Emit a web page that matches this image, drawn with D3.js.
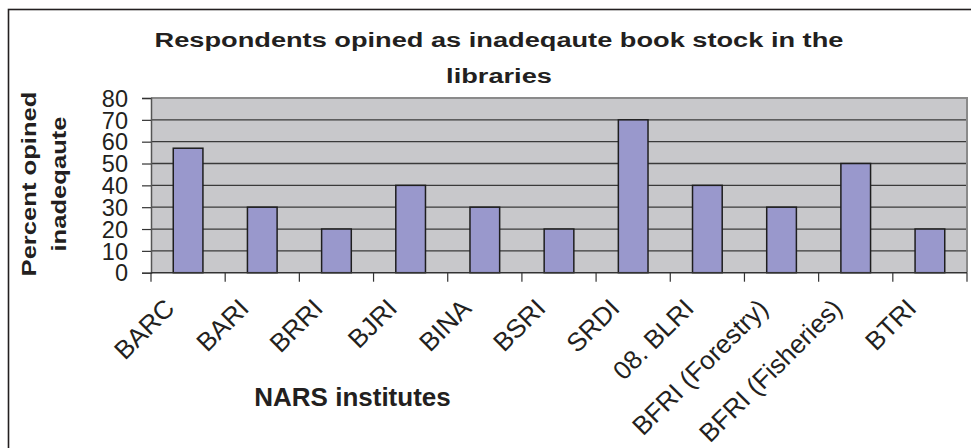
<!DOCTYPE html>
<html>
<head>
<meta charset="utf-8">
<script src="https://cdn.jsdelivr.net/npm/d3@7"></script>
<style>
  html, body { margin: 0; padding: 0; background: #fff; }
  svg { display: block; }
  text { font-family: "Liberation Sans", Arial, sans-serif; fill: #231f20; }
</style>
</head>
<body>
<svg id="chart" width="971" height="448"></svg>
<script>
const categories = ["BARC", "BARI", "BRRI", "BJRI", "BINA", "BSRI", "SRDI", "08. BLRI", "BFRI (Forestry)", "BFRI (Fisheries)", "BTRI"];
const values = [57, 30, 20, 40, 30, 20, 70, 40, 30, 50, 20];
const yTicks = [0, 10, 20, 30, 40, 50, 60, 70, 80];
const titleLines = ["Respondents opined as inadeqaute book stock in the", "libraries"];
const yTitleLines = ["Percent opined", "inadeqaute"];
const xTitle = "NARS institutes";

const svg = d3.select("#chart");
const W = 971, H = 448;
const plot = { left: 151, right: 967, top: 98, bottom: 272.7 };

// outer chart border (extends beyond the picture right and bottom)
svg.append("rect")
  .attr("x", 8.5).attr("y", 9.5)
  .attr("width", W + 10).attr("height", H + 10)
  .attr("fill", "#fff").attr("stroke", "#231f20").attr("stroke-width", 1.6);

const x = d3.scaleBand()
  .domain(categories)
  .range([plot.left, plot.right])
  .paddingInner(0.6)
  .paddingOuter(0.3);

const y = d3.scaleLinear()
  .domain([0, 80])
  .range([plot.bottom, plot.top]);

// plot background
svg.append("rect")
  .attr("x", plot.left).attr("y", plot.top)
  .attr("width", plot.right - plot.left).attr("height", plot.bottom - plot.top)
  .attr("fill", "#c8c8cb");

// gridlines
svg.append("g")
  .selectAll("line")
  .data(yTicks.filter(t => t > 0 && t < 80))
  .join("line")
  .attr("x1", plot.left).attr("x2", plot.right)
  .attr("y1", d => y(d)).attr("y2", d => y(d))
  .attr("stroke", "#3a3a3a").attr("stroke-width", 1.3);

// plot frame top & right (gray)
svg.append("path")
  .attr("d", `M${plot.left},${plot.top}H${plot.right}V${plot.bottom}`)
  .attr("fill", "none").attr("stroke", "#8a8a8a").attr("stroke-width", 2);

// bars
svg.append("g")
  .selectAll("rect")
  .data(categories.map((c, i) => ({ c, v: values[i] })))
  .join("rect")
  .attr("x", d => x(d.c))
  .attr("y", d => y(d.v))
  .attr("width", x.bandwidth())
  .attr("height", d => y(0) - y(d.v))
  .attr("fill", "#9998cc")
  .attr("stroke", "#1e1e1e")
  .attr("stroke-width", 1.5);

// y axis
const yAxis = d3.axisLeft(y).tickValues(yTicks).tickSize(9).tickPadding(14);
const gy = svg.append("g").attr("transform", `translate(${plot.left},0)`).call(yAxis);
gy.select(".domain").attr("stroke", "#555").attr("stroke-width", 1.5);
gy.selectAll(".tick line").attr("stroke", "#333").attr("stroke-width", 1.2);
gy.selectAll(".tick text")
  .attr("font-size", 23.5)
  .attr("font-family", "'Liberation Sans', Arial, sans-serif")
  .attr("fill", "#231f20")
  .attr("dy", "0.35em");

// x axis: ticks at category boundaries
const step = x.step();
const boundaries = categories.map(c => x(c) + x.bandwidth() / 2 - step / 2)
  .concat([x(categories[categories.length - 1]) + x.bandwidth() / 2 + step / 2]);
svg.append("line")
  .attr("x1", plot.left).attr("x2", plot.right)
  .attr("y1", plot.bottom).attr("y2", plot.bottom)
  .attr("stroke", "#333").attr("stroke-width", 1.5);
svg.append("g")
  .selectAll("line")
  .data(boundaries)
  .join("line")
  .attr("x1", d => d).attr("x2", d => d)
  .attr("y1", plot.bottom).attr("y2", plot.bottom + 9)
  .attr("stroke", "#333").attr("stroke-width", 1.2);

// x tick labels rotated
svg.append("g")
  .selectAll("text")
  .data(categories)
  .join("text")
  .attr("transform", d => `translate(${x(d) + x.bandwidth() / 2 - 12},310) rotate(-45)`)
  .attr("text-anchor", "end")
  .attr("font-size", 26)
  .text(d => d);

// title (horizontally stretched bold)
svg.append("g")
  .selectAll("text")
  .data(titleLines)
  .join("text")
  .attr("transform", (d, i) => `translate(499,${47 + i * 35.5}) scale(1.36,1)`)
  .attr("text-anchor", "middle")
  .attr("font-size", 20)
  .attr("font-weight", "bold")
  .text(d => d);

// y title
svg.append("g")
  .selectAll("text")
  .data(yTitleLines)
  .join("text")
  .attr("transform", (d, i) => `translate(${36 + i * 30},184) rotate(-90) scale(1.28,1)`)
  .attr("text-anchor", "middle")
  .attr("font-size", 20)
  .attr("font-weight", "bold")
  .text(d => d);

// x title
svg.append("text")
  .attr("x", 352.5).attr("y", 406)
  .attr("text-anchor", "middle")
  .attr("font-size", 26)
  .attr("font-weight", "bold")
  .text(xTitle);
</script>
</body>
</html>
